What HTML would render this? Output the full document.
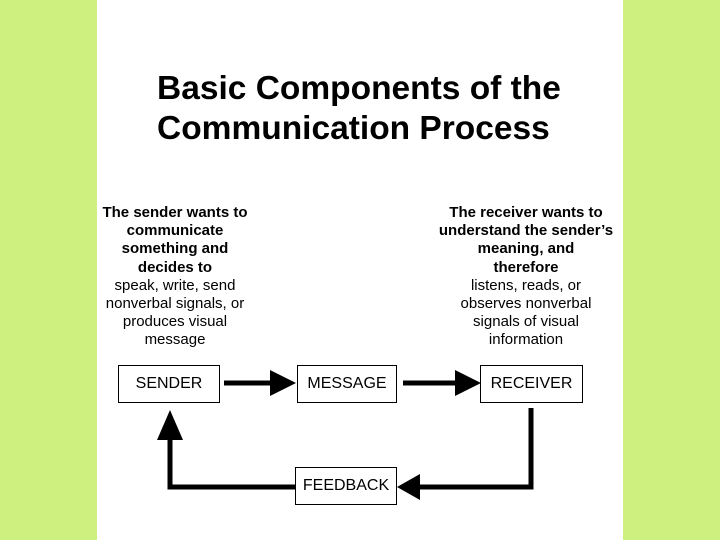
<!DOCTYPE html>
<html><head><style>
body{margin:0;width:720px;height:540px;background:#fff;position:relative;overflow:hidden;font-family:"Liberation Sans",Arial,sans-serif;}
.g{position:absolute;top:0;width:97px;height:540px;background:#cdf07e;}
.t{position:absolute;left:157px;top:69px;font-size:33.5px;font-weight:bold;line-height:40px;color:#000;white-space:nowrap;}
.tx{position:absolute;top:204px;width:220px;text-align:center;font-size:15px;line-height:18.2px;color:#000;white-space:nowrap;}
.tx b{font-weight:bold;}
.box{position:absolute;border:1px solid #000;background:#fff;font-size:16px;display:flex;align-items:center;justify-content:center;box-sizing:border-box;}
</style></head><body>
<div class="g" style="left:0"></div><div class="g" style="left:623px"></div>
<div class="t">Basic Components of the<br>Communication Process</div>
<div class="tx" style="left:65px"><b>The sender wants to<br>communicate<br>something and<br>decides to</b><br>speak, write, send<br>nonverbal signals, or<br>produces visual<br>message</div>
<div class="tx" style="left:416px"><b>The receiver wants to<br>understand the sender’s<br>meaning, and<br>therefore</b><br>listens, reads, or<br>observes nonverbal<br>signals of visual<br>information</div>
<svg style="position:absolute;left:0;top:0" width="720" height="540">
<g fill="#000" stroke="#000">
<line x1="224" y1="383" x2="272" y2="383" stroke-width="5"/>
<polygon points="270,370 296,383 270,396" stroke="none"/>
<line x1="403" y1="383" x2="457" y2="383" stroke-width="5"/>
<polygon points="455,370 481,383 455,396" stroke="none"/>
<polyline points="531,408 531,487 418,487" fill="none" stroke-width="5"/>
<polygon points="420,474 397,487 420,500" stroke="none"/>
<polyline points="295,487 170,487 170,438" fill="none" stroke-width="5"/>
<polygon points="157,440 170,410 183,440" stroke="none"/>
</g></svg>
<div class="box" style="left:118px;top:365px;width:102px;height:38px">SENDER</div>
<div class="box" style="left:297px;top:365px;width:100px;height:38px">MESSAGE</div>
<div class="box" style="left:480px;top:365px;width:103px;height:38px">RECEIVER</div>
<div class="box" style="left:295px;top:467px;width:102px;height:38px">FEEDBACK</div>
</body></html>
